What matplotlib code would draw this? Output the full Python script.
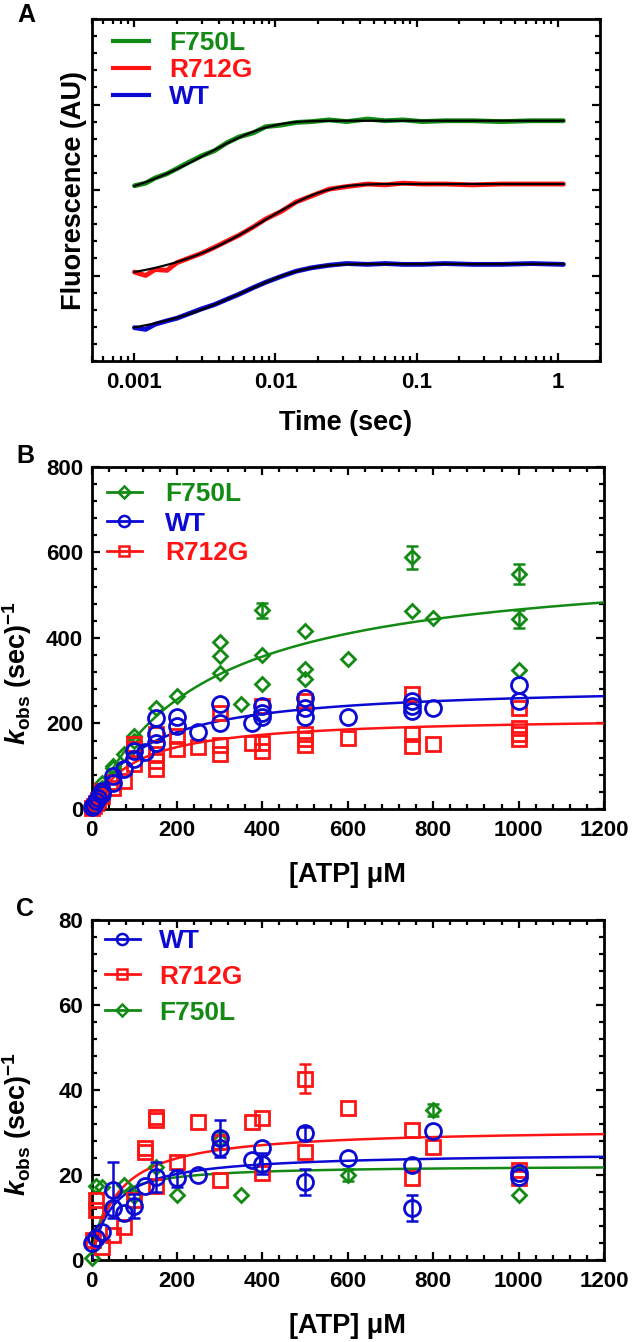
import numpy as np
import matplotlib
matplotlib.use('Agg')
import matplotlib.pyplot as plt
from matplotlib.lines import Line2D
from matplotlib.ticker import MultipleLocator, LogLocator, NullFormatter

plt.rcParams['font.family'] = 'Liberation Sans'
plt.rcParams['font.weight'] = 'bold'
plt.rcParams['axes.labelweight'] = 'bold'
plt.rcParams['mathtext.fontset'] = 'custom'
plt.rcParams['mathtext.rm'] = 'Liberation Sans:bold'
plt.rcParams['mathtext.it'] = 'Liberation Sans:italic:bold'
plt.rcParams['mathtext.bf'] = 'Liberation Sans:bold'

GREEN = '#138a13'
RED = '#ff1414'
BLUE = '#0a0ad2'

# ---------------- panel A : stopped-flow traces ----------------
a_time = [0.001, 0.0012, 0.0014, 0.0017, 0.002, 0.0024, 0.003, 0.0037, 0.0045,
          0.0055, 0.007, 0.0085, 0.011, 0.014, 0.018, 0.024, 0.032, 0.045,
          0.06, 0.08, 0.11, 0.16, 0.25, 0.4, 0.65, 1.1]
a_f750l = [2.05, 2.08, 2.14, 2.19, 2.25, 2.32, 2.40, 2.46, 2.55, 2.62, 2.67, 2.74,
           2.76, 2.79, 2.80, 2.82, 2.80, 2.83, 2.81, 2.82, 2.80, 2.81, 2.81, 2.80, 2.81, 2.81]
a_r712g = [1.04, 1.00, 1.07, 1.06, 1.15, 1.20, 1.26, 1.33, 1.40, 1.47, 1.57, 1.66,
           1.75, 1.86, 1.93, 2.01, 2.04, 2.07, 2.06, 2.08, 2.07, 2.07, 2.06, 2.07, 2.07, 2.07]
a_wt = [0.39, 0.37, 0.43, 0.47, 0.50, 0.55, 0.61, 0.66, 0.72, 0.78, 0.86, 0.92,
        0.99, 1.05, 1.09, 1.12, 1.14, 1.13, 1.14, 1.13, 1.13, 1.14, 1.13, 1.13, 1.14, 1.13]
# single exponential fits: plateau, amplitude, rate (1/s)
a_fit_f750l = [2.81, 1.03, 300]
a_fit_r712g = [2.07, 1.16, 120]
a_fit_wt = [1.134, 0.873, 165]

# ---------------- panel B : kobs vs ATP ----------------
b_f750l_x = [5, 10, 25, 25, 50, 50, 75, 100, 100, 150, 200, 300, 300, 300, 350,
             400, 400, 400, 500, 500, 500, 600, 750, 750, 800, 1000, 1000, 1000]
b_f750l_y = [12, 22, 50, 60, 95, 100, 128, 160, 170, 237, 264, 390, 357, 317, 245,
             464, 359, 293, 416, 328, 303, 350, 588, 462, 447, 549, 443, 325]
b_f750l_err = [0, 0, 0, 0, 0, 0, 0, 0, 0, 0, 0, 0, 0, 0, 0,
               18, 0, 0, 0, 0, 0, 0, 27, 0, 0, 23, 21, 0]

b_wt_x = [2, 5, 10, 15, 25, 25, 50, 50, 75, 100, 100, 125, 150, 150, 150, 200, 200,
          250, 300, 300, 375, 400, 400, 400, 500, 500, 500, 600, 750, 750, 750, 800,
          1000, 1000]
b_wt_y = [5, 10, 18, 25, 43, 35, 78, 60, 93, 136, 117, 134, 212, 175, 155, 214, 194,
          179, 245, 200, 202, 241, 225, 214, 260, 237, 214, 214, 252, 240, 229, 235,
          289, 252]

b_r712g_x = [2, 5, 10, 15, 25, 25, 50, 50, 75, 100, 100, 100, 150, 150, 150, 150,
             200, 200, 250, 300, 300, 300, 375, 400, 400, 400, 500, 500, 500, 500,
             600, 750, 750, 750, 800, 1000, 1000, 1000, 1000]
b_r712g_y = [3, 8, 15, 22, 43, 30, 62, 50, 66, 140, 105, 152, 175, 128, 113, 93,
             171, 140, 144, 225, 150, 128, 155, 241, 155, 136, 252, 175, 163, 150,
             167, 268, 175, 148, 151, 237, 190, 175, 163]

# hyperbolic fits: Vmax, K
b_fit_f750l = [587, 259]
b_fit_wt = [291, 124]
b_fit_r712g = [217, 100]

# ---------------- panel C ----------------
c_wt_x = [2, 10, 25, 50, 50, 75, 100, 125, 150, 200, 250, 300, 300, 375, 400, 400,
          500, 500, 600, 750, 750, 800, 1000, 1000]
c_wt_y = [3.9, 5.1, 6.7, 16.5, 12.2, 11.0, 12.7, 17.3, 19.6, 19.2, 20.0, 28.6, 26.3,
          23.5, 26.3, 22.7, 29.8, 18.4, 23.9, 22.4, 12.2, 30.4, 20.4, 19.6]
c_wt_err = [0, 0, 0, 6.6, 0, 0, 2.8, 0, 3.5, 2.0, 0, 4.3, 0,
            0, 0, 2.5, 1.5, 3.0, 0, 0, 3.0, 0, 0, 0]

c_r712g_x = [3, 10, 10, 25, 50, 75, 100, 125, 125, 150, 150, 150, 200, 250, 300,
             300, 375, 400, 400, 500, 500, 600, 750, 750, 800, 1000, 1000]
c_r712g_y = [4.7, 14.1, 11.8, 3.1, 5.9, 7.8, 14.1, 26.3, 25.5, 33.7, 33.0, 17.3,
             23.1, 32.5, 27.8, 18.8, 32.5, 33.3, 20.4, 42.7, 25.5, 35.7, 30.6, 19.2,
             26.7, 21.2, 19.2]
c_r712g_err = [0, 0, 0, 0, 0, 0, 0, 0, 0, 0, 0, 0, 0, 0, 0,
               0, 0, 0, 0, 3.5, 0, 0, 0, 0, 0, 0, 0]

c_f750l_x = [0, 10, 25, 75, 100, 150, 200, 300, 350, 600, 800, 1000]
c_f750l_y = [0.4, 17.5, 17.2, 17.6, 15.0, 22.0, 15.3, 28.2, 15.3, 20.0, 35.3, 15.3]
c_f750l_err = [0, 0, 0, 0, 0, 0, 0, 2.0, 0, 1.5, 1.5, 0]

c_fit_r712g = [31.1, 60]
c_fit_wt = [25.3, 50]
c_fit_f750l = [22.3, 29]

W, H = 633, 1342
fig = plt.figure(figsize=(W / 100, H / 100), dpi=100)


def px_axes(left, right, top, bottom):
    return fig.add_axes([left / W, 1 - bottom / H, (right - left) / W, (bottom - top) / H])


def style(ax):
    for s in ax.spines.values():
        s.set_linewidth(2)
    ax.tick_params(which='both', direction='in', top=True, right=True, width=1.6,
                   labelsize=16)
    ax.tick_params(which='major', length=6)
    ax.tick_params(which='minor', length=3.6)
    ax.tick_params(axis='x', pad=8)
    ax.tick_params(axis='y', pad=6)


def hyper(p, x):
    return p[0] * x / (p[1] + x)


def scatter_err(ax, x, y, err, color, marker, ms, z):
    x = np.array(x, float)
    y = np.array(y, float)
    ax.plot(x, y, ls='none', marker=marker, ms=ms, mfc='none', mec=color, mew=2,
            zorder=z, clip_on=False)
    if err is not None:
        err = np.array(err, float)
        m = err > 0
        ax.errorbar(x[m], y[m], yerr=err[m], fmt='none', ecolor=color, elinewidth=1.8,
                    capsize=4, capthick=1.8, zorder=z)


# ---------------- A ----------------
axA = px_axes(92, 600, 19, 361)
style(axA)
t = np.array(a_time)
tf = np.logspace(-3, np.log10(1.1), 300)
for yv, fit, c in [(a_f750l, a_fit_f750l, GREEN), (a_r712g, a_fit_r712g, RED),
                   (a_wt, a_fit_wt, BLUE)]:
    axA.plot(t, yv, color=c, lw=3.5, solid_capstyle='round')
    axA.plot(tf, fit[0] - fit[1] * np.exp(-fit[2] * tf), color='black', lw=1.6)
axA.set_xscale('log')
axA.set_xlim(0.0005, 2)
axA.set_ylim(0, 4)
axA.set_xticks([0.001, 0.01, 0.1, 1])
axA.set_xticklabels(['0.001', '0.01', '0.1', '1'])
axA.xaxis.set_minor_locator(LogLocator(base=10, subs=np.arange(2, 10)))
axA.xaxis.set_minor_formatter(NullFormatter())
axA.set_yticks([1, 2, 3])
axA.set_yticklabels([])
axA.yaxis.set_minor_locator(MultipleLocator(0.2))
axA.set_xlabel('Time (sec)', fontsize=19.5)
axA.xaxis.set_label_coords(0.5, -0.143)
axA.set_ylabel('Fluorescence (AU)', fontsize=19.5)
axA.yaxis.set_label_coords(-0.0104, 0.5)
hA = [Line2D([], [], color=c, lw=3) for c in (GREEN, RED, BLUE)]
axA.legend(hA, ['F750L', 'R712G', 'WT'], loc='upper left', bbox_to_anchor=(0.041, 0.965),
           frameon=False, borderpad=0, borderaxespad=0, fontsize=19, handlelength=1.37,
           handletextpad=0.76, labelspacing=0.12, labelcolor='linecolor')

# ---------------- B ----------------
axB = px_axes(91.5, 604, 466.7, 809)
style(axB)
xf = np.linspace(0, 1200, 300)
axB.plot(xf, hyper(b_fit_f750l, xf), color=GREEN, lw=1.8, zorder=3)
axB.plot(xf, hyper(b_fit_wt, xf), color=BLUE, lw=1.8, zorder=3)
axB.plot(xf, hyper(b_fit_r712g, xf), color=RED, lw=1.8, zorder=3)
scatter_err(axB, b_f750l_x, b_f750l_y, b_f750l_err, GREEN, 'D', 7.5, 4)
scatter_err(axB, b_r712g_x, b_r712g_y, None, RED, 's', 10, 5)
scatter_err(axB, b_wt_x, b_wt_y, None, BLUE, 'o', 11.5, 6)
axB.set_xlim(0, 1200)
axB.set_ylim(0, 800)
axB.xaxis.set_major_locator(MultipleLocator(200))
axB.xaxis.set_minor_locator(MultipleLocator(40))
axB.yaxis.set_major_locator(MultipleLocator(200))
axB.yaxis.set_minor_locator(MultipleLocator(40))
axB.set_xlabel('[ATP] \u03bcM', fontsize=19.5)
axB.xaxis.set_label_coords(0.5, -0.154)
axB.set_ylabel(r'$k_{\mathrm{obs}}$ (sec)$^{\mathrm{-1}}$', fontsize=19.5)
axB.yaxis.set_label_coords(-0.112, 0.398)
hB = [Line2D([], [], color=GREEN, marker='D', ms=6, mfc='none', mew=1.8, lw=2),
      Line2D([], [], color=BLUE, marker='o', ms=8, mfc='none', mew=1.8, lw=2),
      Line2D([], [], color=RED, marker='s', ms=7.5, mfc='none', mew=1.8, lw=2)]
axB.legend(hB, ['F750L', 'WT', 'R712G'], loc='upper left', bbox_to_anchor=(0.0297, 0.954),
           frameon=False, borderpad=0, borderaxespad=0, fontsize=19, handlelength=1.33,
           handletextpad=0.88, labelspacing=0.2, labelcolor='linecolor')

# ---------------- C ----------------
axC = px_axes(91.5, 604, 920, 1260)
style(axC)
axC.plot(xf, hyper(c_fit_f750l, xf), color=GREEN, lw=1.8, zorder=3)
axC.plot(xf, hyper(c_fit_r712g, xf), color=RED, lw=1.8, zorder=3)
axC.plot(xf, hyper(c_fit_wt, xf), color=BLUE, lw=1.8, zorder=3)
scatter_err(axC, c_f750l_x, c_f750l_y, c_f750l_err, GREEN, 'D', 7.5, 4)
scatter_err(axC, c_r712g_x, c_r712g_y, c_r712g_err, RED, 's', 10, 5)
scatter_err(axC, c_wt_x, c_wt_y, c_wt_err, BLUE, 'o', 11.5, 6)
axC.set_xlim(0, 1200)
axC.set_ylim(0, 80)
axC.xaxis.set_major_locator(MultipleLocator(200))
axC.xaxis.set_minor_locator(MultipleLocator(40))
axC.yaxis.set_major_locator(MultipleLocator(20))
axC.yaxis.set_minor_locator(MultipleLocator(4))
axC.set_xlabel('[ATP] \u03bcM', fontsize=19.5)
axC.xaxis.set_label_coords(0.5, -0.155)
axC.set_ylabel(r'$k_{\mathrm{obs}}$ (sec)$^{\mathrm{-1}}$', fontsize=19.5)
axC.yaxis.set_label_coords(-0.112, 0.40)
hC = [Line2D([], [], color=BLUE, marker='o', ms=8, mfc='none', mew=1.8, lw=2),
      Line2D([], [], color=RED, marker='s', ms=7.5, mfc='none', mew=1.8, lw=2),
      Line2D([], [], color=GREEN, marker='D', ms=6, mfc='none', mew=1.8, lw=2)]
axC.legend(hC, ['WT', 'R712G', 'F750L'], loc='upper left', bbox_to_anchor=(0.0258, 0.974),
           frameon=False, borderpad=0, borderaxespad=0, fontsize=19, handlelength=1.33,
           handletextpad=0.73, labelspacing=0.45, labelcolor='linecolor')

# panel letters
for lab, x, y in [('A', 26, 15.5), ('B', 25, 456), ('C', 25, 909)]:
    fig.text(x / W, 1 - y / H, lab, fontsize=18, fontweight='bold', ha='center', va='center')

fig.savefig('out.png', dpi=100)
